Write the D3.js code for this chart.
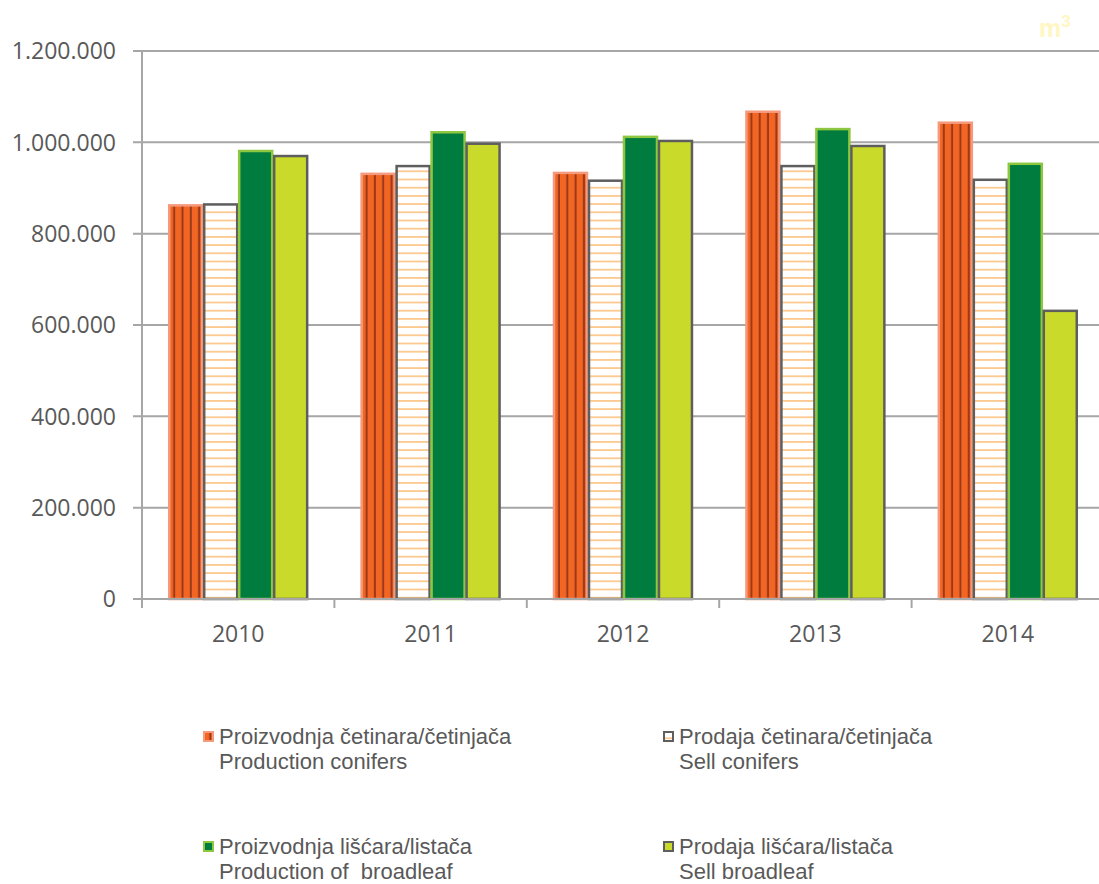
<!DOCTYPE html>
<html><head><meta charset="utf-8">
<script src="https://cdn.jsdelivr.net/npm/d3@7"></script>
<style>body{margin:0;background:#fff;} svg{display:block;}</style>
</head><body>
<svg id="c" width="1099" height="884"></svg>
<script>
const years = ["2010","2011","2012","2013","2014"];
const seriesKeys = ["prodCon","sellCon","prodBro","sellBro"];
const prodConifers = [862000, 931000, 933000, 1067000, 1043000];
const sellConifers = [864000, 948000, 916000, 948000, 918000];
const prodBroadleaf = [981000, 1022000, 1012000, 1029000, 953000];
const sellBroadleaf = [970000, 997000, 1003000, 992000, 631000];
const yTicks = [0, 200000, 400000, 600000, 800000, 1000000, 1200000];
const legendLabels = [
  ["Proizvodnja četinara/četinjača","Production conifers"],
  ["Prodaja četinara/četinjača","Sell conifers"],
  ["Proizvodnja lišćara/listača","Production of  broadleaf"],
  ["Prodaja lišćara/listača","Sell broadleaf"]
];
const valuesBySeries = [prodConifers, sellConifers, prodBroadleaf, sellBroadleaf];

const svg = d3.select("#c");
const defs = svg.append("defs");
const p1 = defs.append("pattern").attr("id","pOr").attr("patternUnits","userSpaceOnUse")
  .attr("width",8.3).attr("height",10).attr("x",0);
p1.append("rect").attr("width",8.3).attr("height",10).attr("fill","#F26522");
p1.append("rect").attr("x",6.3).attr("width",2).attr("height",10).attr("fill","#9A3A1C");
const p2 = defs.append("pattern").attr("id","pWh").attr("patternUnits","userSpaceOnUse")
  .attr("width",10).attr("height",8.2);
p2.append("rect").attr("width",10).attr("height",8.2).attr("fill","#fff");
p2.append("rect").attr("y",6.4).attr("width",10).attr("height",1.8).attr("fill","#FCC98F");

const fills = ["url(#pOr)","url(#pWh)","#007C3E","#C9DA2B"];
const strokes = ["#F59A7C","#5E5E5E","#8DC63F","#5E5E5E"];

const x0 = d3.scaleBand().domain(years).range([142,1104]).paddingInner(0).paddingOuter(0);
const x1 = d3.scaleBand().domain(seriesKeys).range([0,x0.bandwidth()]).paddingInner(0).paddingOuter(0.75);
const y = d3.scaleLinear().domain([0,1200000]).range([599,51]);

const fmt = v => d3.format(",")(v).replace(/,/g,".");

svg.append("g").selectAll("line").data(yTicks).join("line")
  .attr("x1",133).attr("x2",1104).attr("y1",d=>y(d)).attr("y2",d=>y(d))
  .attr("stroke","#A6A6A6").attr("stroke-width",2);
svg.append("line").attr("x1",142).attr("x2",142).attr("y1",51).attr("y2",599)
  .attr("stroke","#A6A6A6").attr("stroke-width",2);
svg.append("g").selectAll("text").data(yTicks).join("text")
  .attr("x",116).attr("y",d=>y(d)).attr("dy","0.36em").attr("text-anchor","end")
  .attr("font-family","Open Sans").attr("font-size",23).attr("fill","#595959")
  .text(d=>fmt(d));

const groups = svg.append("g").selectAll("g").data(years).join("g")
  .attr("transform",d=>`translate(${x0(d)},0)`);
groups.selectAll("rect").data((d,i)=>seriesKeys.map((k,j)=>({k,j,v:valuesBySeries[j][i]}))).join("rect")
  .attr("x",d=>x1(d.k)+1).attr("width",x1.bandwidth()-2)
  .attr("y",d=>y(d.v)).attr("height",d=>y(0)-y(d.v))
  .attr("fill",d=>fills[d.j]).attr("stroke",d=>strokes[d.j]).attr("stroke-width",2.5);

svg.append("line").attr("x1",133).attr("x2",1104).attr("y1",y(0)).attr("y2",y(0))
  .attr("stroke","#A6A6A6").attr("stroke-width",2);
const xt = years.map(d=>x0(d)).concat([x0(years[years.length-1])+x0.bandwidth()]);
svg.append("g").selectAll("line").data(xt).join("line")
  .attr("x1",d=>d).attr("x2",d=>d).attr("y1",599).attr("y2",608)
  .attr("stroke","#A6A6A6").attr("stroke-width",2);
svg.append("g").selectAll("text").data(years).join("text")
  .attr("x",d=>x0(d)+x0.bandwidth()/2).attr("y",634).attr("dy","0.36em").attr("text-anchor","middle")
  .attr("font-family","Open Sans").attr("font-size",23).attr("fill","#595959").text(d=>d);

const mt = svg.append("text").attr("x",1039).attr("y",37).attr("font-family","Liberation Sans, Arial")
  .attr("font-size",25).attr("font-weight","bold").attr("fill","#FFF6C2");
mt.append("tspan").text("m");
mt.append("tspan").attr("font-size",17).attr("dy",-10).text("3");

const legPos = [[203,731],[663,731],[203,841],[663,841]];
const lg = svg.append("g").selectAll("g").data(legendLabels).join("g")
  .attr("transform",(d,i)=>`translate(${legPos[i][0]},${legPos[i][1]})`);
lg.append("rect").attr("x",1).attr("y",1).attr("width",9).attr("height",9)
  .attr("fill",(d,i)=>fills[i]).attr("stroke",(d,i)=>strokes[i]).attr("stroke-width",2);
lg.append("text").attr("x",16).attr("y",13).attr("font-family","Liberation Sans, Arial")
  .attr("font-size",22).attr("fill","#595959").style("white-space","pre")
  .selectAll("tspan").data(d=>d).join("tspan").attr("x",16).attr("dy",(d,i)=>i?25:0).text(d=>d);
</script>
</body></html>
